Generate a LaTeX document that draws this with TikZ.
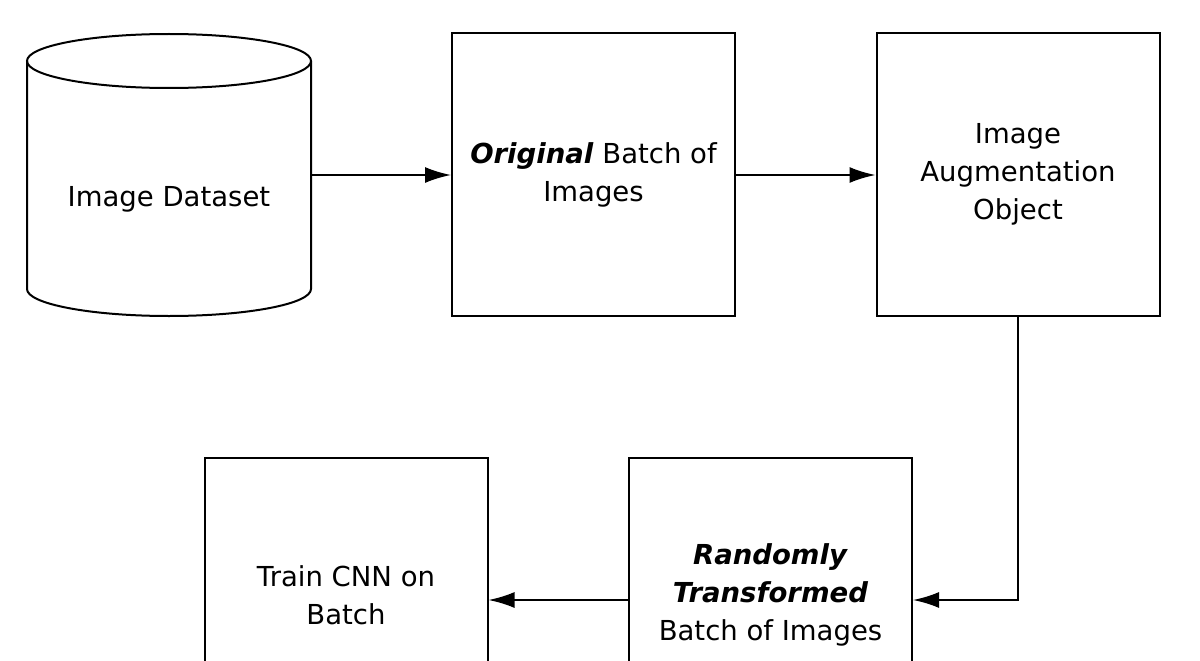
\documentclass[tikz,border=0pt]{standalone}
\usepackage{fontspec}
\setmainfont{DejaVu Sans}
\usetikzlibrary{arrows.meta}
\begin{document}
\begin{tikzpicture}[x=1pt,y=-1pt,
  txt/.style={align=center,font=\fontsize{27.5}{38}\selectfont,inner sep=0pt},
  box/.style={txt,draw,line width=2pt,minimum width=283pt,minimum height=283pt},
  arr/.style={line width=2pt,-{Latex[length=26pt,width=16pt]}}]
\useasboundingbox (0,0) rectangle (1200,661);
\clip (0,0) rectangle (1200,661);
\fill[white] (0,0) rectangle (1200,661);
\node[minimum width=284pt,minimum height=284pt,inner sep=0pt] (ds) at (169,175) {};
\draw[line width=2pt] (27,61) -- (27,289) arc[start angle=180,end angle=360,x radius=142pt,y radius=27pt] -- (311,61);
\draw[line width=2pt] (169,61) ellipse[x radius=142pt,y radius=27pt];
\node[txt] (dst) at (169,199) {Image Dataset};
\node[box] (orig) at (593.5,174.5) {\textbf{\textit{Original}} Batch of\\Images};
\node[box] (aug) at (1018,174.5) {Image\\Augmentation\\Object};
\node[box,minimum height=300pt] (train) at (346,608) {};
\node[txt] (traint) at (346,595) {Train CNN on\\Batch};
\node[box,minimum height=300pt] (rand) at (770.5,608) {};
\node[txt] (randt) at (770.5,595) {\textbf{\textit{Randomly}}\\\textbf{\textit{Transformed}}\\Batch of Images};
\coordinate (c1) at (1018,600);
\draw[arr] (ds.east|-0,175) -- (orig.west|-0,175);
\draw[arr] (orig.east|-0,175) -- (aug.west|-0,175);
\draw[arr] (aug.south) -- (c1) -- (rand.east|-c1);
\draw[arr] (rand.west|-c1) -- (train.east|-c1);
\end{tikzpicture}
\end{document}
